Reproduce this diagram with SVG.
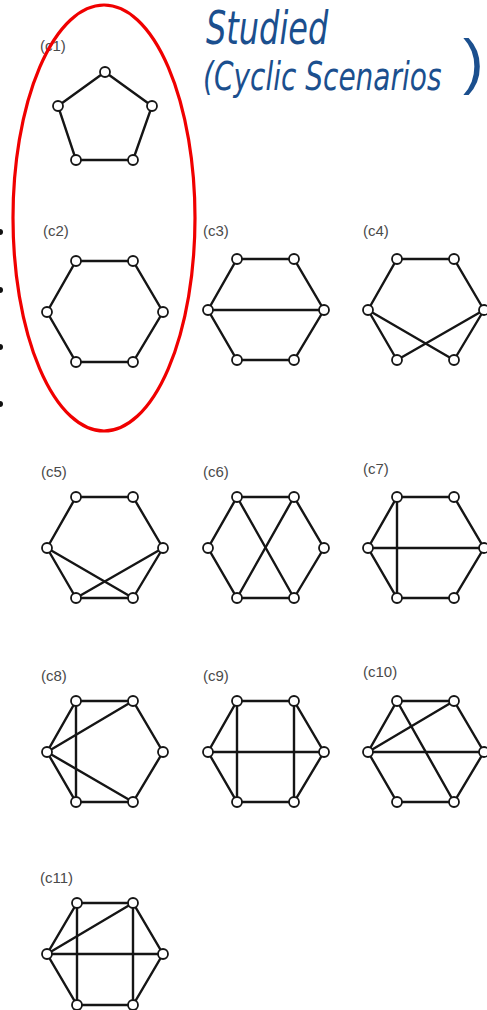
<svg xmlns="http://www.w3.org/2000/svg" width="487" height="1010" viewBox="0 0 487 1010">
<style>
.lbl{font-family:"Liberation Sans",Arial,sans-serif;font-size:15px;fill:#4a4a4a}
.e{stroke:#151515;stroke-width:2.4;fill:none;stroke-linecap:round}
.n{fill:#fff;stroke:#151515;stroke-width:1.8}
.hw{font-family:"DejaVu Sans","Liberation Sans",sans-serif;font-style:italic;fill:#1b4f8e}
</style>
<rect width="487" height="1010" fill="#fff"/>

<!-- handwriting annotation -->
<g id="note">
<text class="hw" transform="translate(206,44) scale(1,1.45)" font-size="32">Studied</text>
<text class="hw" transform="translate(203,90) scale(1,1.4)" font-size="28">(Cyclic Scenarios</text>
<text x="463" y="82" font-size="62" font-family="Liberation Sans, sans-serif" fill="#1b4f8e">)</text>
</g>

<!-- left edge bullets -->
<g id="bullets" fill="#111">
<circle cx="0" cy="232" r="3"/>
<circle cx="0" cy="290" r="3"/>
<circle cx="0" cy="347" r="3"/>
<circle cx="0" cy="404" r="3"/>
</g>

<!-- c1 pentagon -->
<g id="c1">
<text class="lbl" x="40" y="51">(c1)</text>
<g class="connectors">
<polygon class="e" points="105,72 152,106 133,160 76,160 58,106"/>
</g>
<g id="c1-n1"><circle class="n" cx="105" cy="72" r="5"/></g>
<g id="c1-n2"><circle class="n" cx="152" cy="106" r="5"/></g>
<g id="c1-n3"><circle class="n" cx="133" cy="160" r="5"/></g>
<g id="c1-n4"><circle class="n" cx="76" cy="160" r="5"/></g>
<g id="c1-n5"><circle class="n" cx="58" cy="106" r="5"/></g>
</g>

<!-- c2 -->
<g id="c2" transform="translate(47,261)">
<text class="lbl" x="-4" y="-25">(c2)</text>
<g class="connectors">
<polygon class="e" points="29,0 86,0 116,51 86,101 29,101 0,51"/>
</g>
<g id="c2-tl"><circle class="n" cx="29" cy="0" r="5"/></g>
<g id="c2-tr"><circle class="n" cx="86" cy="0" r="5"/></g>
<g id="c2-r"><circle class="n" cx="116" cy="51" r="5"/></g>
<g id="c2-br"><circle class="n" cx="86" cy="101" r="5"/></g>
<g id="c2-bl"><circle class="n" cx="29" cy="101" r="5"/></g>
<g id="c2-l"><circle class="n" cx="0" cy="51" r="5"/></g>
</g>

<!-- c3 -->
<g id="c3" transform="translate(208,259)">
<text class="lbl" x="-5" y="-23">(c3)</text>
<g class="connectors">
<polygon class="e" points="29,0 86,0 116,51 86,101 29,101 0,51"/>
<line class="e" x1="0" y1="51" x2="116" y2="51"/>
</g>
<g id="c3-tl"><circle class="n" cx="29" cy="0" r="5"/></g>
<g id="c3-tr"><circle class="n" cx="86" cy="0" r="5"/></g>
<g id="c3-r"><circle class="n" cx="116" cy="51" r="5"/></g>
<g id="c3-br"><circle class="n" cx="86" cy="101" r="5"/></g>
<g id="c3-bl"><circle class="n" cx="29" cy="101" r="5"/></g>
<g id="c3-l"><circle class="n" cx="0" cy="51" r="5"/></g>
</g>

<!-- c4 -->
<g id="c4" transform="translate(368,259)">
<text class="lbl" x="-5" y="-23">(c4)</text>
<g class="connectors">
<polyline class="e" points="0,51 29,0 86,0 116,51"/>
<line class="e" x1="0" y1="51" x2="29" y2="101"/>
<line class="e" x1="0" y1="51" x2="86" y2="101"/>
<line class="e" x1="116" y1="51" x2="29" y2="101"/>
<line class="e" x1="116" y1="51" x2="86" y2="101"/>
</g>
<g id="c4-tl"><circle class="n" cx="29" cy="0" r="5"/></g>
<g id="c4-tr"><circle class="n" cx="86" cy="0" r="5"/></g>
<g id="c4-r"><circle class="n" cx="116" cy="51" r="5"/></g>
<g id="c4-br"><circle class="n" cx="86" cy="101" r="5"/></g>
<g id="c4-bl"><circle class="n" cx="29" cy="101" r="5"/></g>
<g id="c4-l"><circle class="n" cx="0" cy="51" r="5"/></g>
</g>

<!-- c5 -->
<g id="c5" transform="translate(47,497)">
<text class="lbl" x="-6" y="-20">(c5)</text>
<g class="connectors">
<polyline class="e" points="0,51 29,0 86,0 116,51"/>
<line class="e" x1="29" y1="101" x2="86" y2="101"/>
<line class="e" x1="0" y1="51" x2="29" y2="101"/>
<line class="e" x1="0" y1="51" x2="86" y2="101"/>
<line class="e" x1="116" y1="51" x2="29" y2="101"/>
<line class="e" x1="116" y1="51" x2="86" y2="101"/>
</g>
<g id="c5-tl"><circle class="n" cx="29" cy="0" r="5"/></g>
<g id="c5-tr"><circle class="n" cx="86" cy="0" r="5"/></g>
<g id="c5-r"><circle class="n" cx="116" cy="51" r="5"/></g>
<g id="c5-br"><circle class="n" cx="86" cy="101" r="5"/></g>
<g id="c5-bl"><circle class="n" cx="29" cy="101" r="5"/></g>
<g id="c5-l"><circle class="n" cx="0" cy="51" r="5"/></g>
</g>

<!-- c6 -->
<g id="c6" transform="translate(208,497)">
<text class="lbl" x="-5" y="-20">(c6)</text>
<g class="connectors">
<polyline class="e" points="86,101 29,101 0,51 29,0 86,0 116,51 86,101"/>
<line class="e" x1="29" y1="0" x2="86" y2="101"/>
<line class="e" x1="86" y1="0" x2="29" y2="101"/>
</g>
<g id="c6-tl"><circle class="n" cx="29" cy="0" r="5"/></g>
<g id="c6-tr"><circle class="n" cx="86" cy="0" r="5"/></g>
<g id="c6-r"><circle class="n" cx="116" cy="51" r="5"/></g>
<g id="c6-br"><circle class="n" cx="86" cy="101" r="5"/></g>
<g id="c6-bl"><circle class="n" cx="29" cy="101" r="5"/></g>
<g id="c6-l"><circle class="n" cx="0" cy="51" r="5"/></g>
</g>

<!-- c7 -->
<g id="c7" transform="translate(368,497)">
<text class="lbl" x="-5" y="-23">(c7)</text>
<g class="connectors">
<polygon class="e" points="29,0 86,0 116,51 86,101 29,101 0,51"/>
<line class="e" x1="0" y1="51" x2="116" y2="51"/>
<line class="e" x1="29" y1="0" x2="29" y2="101"/>
</g>
<g id="c7-tl"><circle class="n" cx="29" cy="0" r="5"/></g>
<g id="c7-tr"><circle class="n" cx="86" cy="0" r="5"/></g>
<g id="c7-r"><circle class="n" cx="116" cy="51" r="5"/></g>
<g id="c7-br"><circle class="n" cx="86" cy="101" r="5"/></g>
<g id="c7-bl"><circle class="n" cx="29" cy="101" r="5"/></g>
<g id="c7-l"><circle class="n" cx="0" cy="51" r="5"/></g>
</g>

<!-- c8 -->
<g id="c8" transform="translate(47,701)">
<text class="lbl" x="-6" y="-20">(c8)</text>
<g class="connectors">
<polygon class="e" points="29,0 86,0 116,51 86,101 29,101 0,51"/>
<line class="e" x1="29" y1="0" x2="29" y2="101"/>
<line class="e" x1="0" y1="51" x2="86" y2="0"/>
<line class="e" x1="0" y1="51" x2="86" y2="101"/>
</g>
<g id="c8-tl"><circle class="n" cx="29" cy="0" r="5"/></g>
<g id="c8-tr"><circle class="n" cx="86" cy="0" r="5"/></g>
<g id="c8-r"><circle class="n" cx="116" cy="51" r="5"/></g>
<g id="c8-br"><circle class="n" cx="86" cy="101" r="5"/></g>
<g id="c8-bl"><circle class="n" cx="29" cy="101" r="5"/></g>
<g id="c8-l"><circle class="n" cx="0" cy="51" r="5"/></g>
</g>

<!-- c9 -->
<g id="c9" transform="translate(208,701)">
<text class="lbl" x="-5" y="-20">(c9)</text>
<g class="connectors">
<polygon class="e" points="29,0 86,0 116,51 86,101 29,101 0,51"/>
<line class="e" x1="0" y1="51" x2="116" y2="51"/>
<line class="e" x1="29" y1="0" x2="29" y2="101"/>
<line class="e" x1="86" y1="0" x2="86" y2="101"/>
</g>
<g id="c9-tl"><circle class="n" cx="29" cy="0" r="5"/></g>
<g id="c9-tr"><circle class="n" cx="86" cy="0" r="5"/></g>
<g id="c9-r"><circle class="n" cx="116" cy="51" r="5"/></g>
<g id="c9-br"><circle class="n" cx="86" cy="101" r="5"/></g>
<g id="c9-bl"><circle class="n" cx="29" cy="101" r="5"/></g>
<g id="c9-l"><circle class="n" cx="0" cy="51" r="5"/></g>
</g>

<!-- c10 -->
<g id="c10" transform="translate(368,701)">
<text class="lbl" x="-5" y="-24">(c10)</text>
<g class="connectors">
<polygon class="e" points="29,0 86,0 116,51 86,101 29,101 0,51"/>
<line class="e" x1="0" y1="51" x2="116" y2="51"/>
<line class="e" x1="0" y1="51" x2="86" y2="0"/>
<line class="e" x1="29" y1="0" x2="86" y2="101"/>
</g>
<g id="c10-tl"><circle class="n" cx="29" cy="0" r="5"/></g>
<g id="c10-tr"><circle class="n" cx="86" cy="0" r="5"/></g>
<g id="c10-r"><circle class="n" cx="116" cy="51" r="5"/></g>
<g id="c10-br"><circle class="n" cx="86" cy="101" r="5"/></g>
<g id="c10-bl"><circle class="n" cx="29" cy="101" r="5"/></g>
<g id="c10-l"><circle class="n" cx="0" cy="51" r="5"/></g>
</g>

<!-- c11 -->
<g id="c11" transform="translate(47,903)">
<text class="lbl" x="-7" y="-20">(c11)</text>
<g class="connectors">
<polygon class="e" points="30,0 86,0 116,51 86,102 30,102 0,51"/>
<line class="e" x1="0" y1="51" x2="116" y2="51"/>
<line class="e" x1="30" y1="0" x2="30" y2="102"/>
<line class="e" x1="86" y1="0" x2="86" y2="102"/>
<line class="e" x1="0" y1="51" x2="86" y2="0"/>
</g>
<g id="c11-tl"><circle class="n" cx="30" cy="0" r="5"/></g>
<g id="c11-tr"><circle class="n" cx="86" cy="0" r="5"/></g>
<g id="c11-r"><circle class="n" cx="116" cy="51" r="5"/></g>
<g id="c11-br"><circle class="n" cx="86" cy="102" r="5"/></g>
<g id="c11-bl"><circle class="n" cx="30" cy="102" r="5"/></g>
<g id="c11-l"><circle class="n" cx="0" cy="51" r="5"/></g>
</g>

<!-- red highlight ellipse -->
<ellipse id="highlight" cx="104" cy="218" rx="91" ry="213" fill="none" stroke="#f00000" stroke-width="3.2"/>
</svg>
